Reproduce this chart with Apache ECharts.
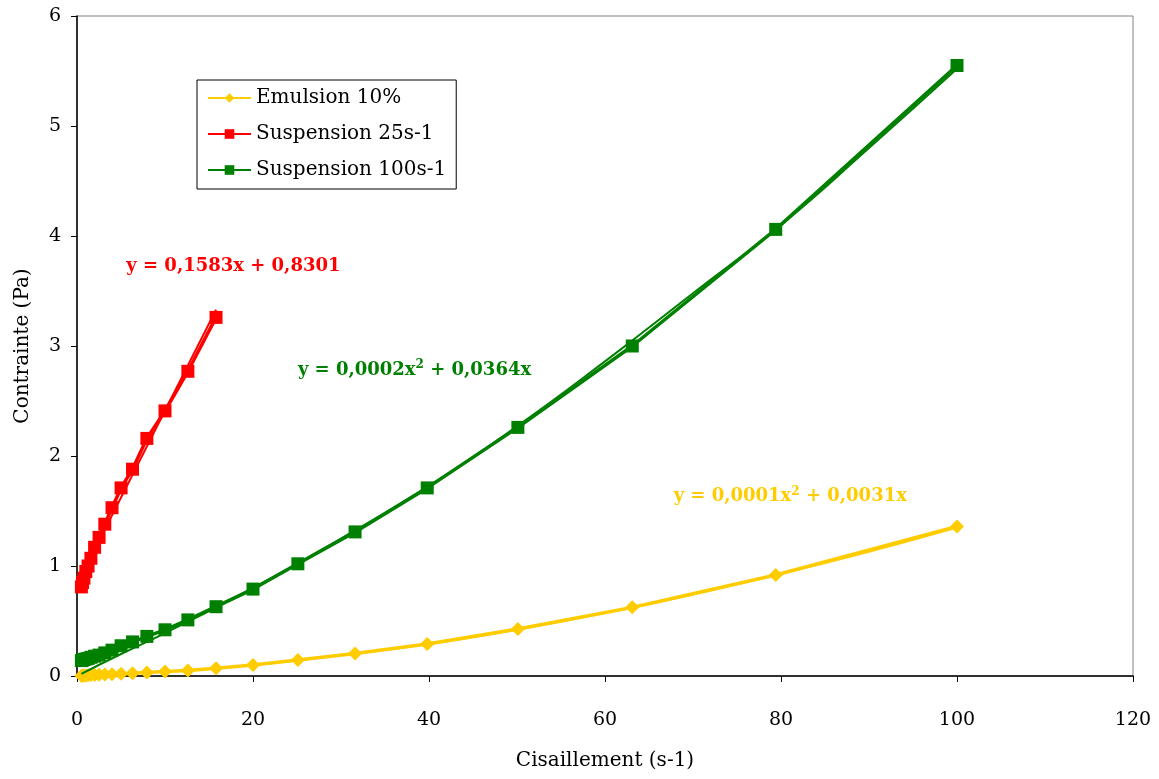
<!DOCTYPE html>
<html>
<head>
<meta charset="utf-8">
<script src="https://cdn.jsdelivr.net/npm/echarts@6/dist/echarts.min.js"></script>
<style>
html,body{margin:0;padding:0;background:#fff;}
#c{width:1159px;height:779px;}
</style>
</head>
<body>
<div id="c"></div>
<script>
// Shear rates (s-1)
const shearLong = [0.5, 0.63, 0.79, 1, 1.26, 1.58, 2, 2.51, 3.16, 3.98, 5.01, 6.31, 7.94, 10, 12.6, 15.8, 20, 25.1, 31.6, 39.8, 50.1, 63.1, 79.4, 100];
const shearShort = [0.5, 0.63, 0.79, 1, 1.26, 1.58, 2, 2.51, 3.16, 3.98, 5.01, 6.31, 7.94, 10, 12.6, 15.8];

// Stress (Pa)
const emulsion10 = [0.002, 0.003, 0.004, 0.005, 0.006, 0.008, 0.01, 0.012, 0.014, 0.017, 0.02, 0.025, 0.032, 0.04, 0.05, 0.07, 0.10, 0.145, 0.205, 0.29, 0.427, 0.624, 0.918, 1.36];
const susp25 = [0.81, 0.85, 0.89, 0.95, 1.0, 1.07, 1.17, 1.26, 1.38, 1.53, 1.71, 1.88, 2.16, 2.41, 2.77, 3.26];
const susp100 = [0.14, 0.145, 0.15, 0.155, 0.16, 0.17, 0.18, 0.19, 0.21, 0.235, 0.275, 0.31, 0.36, 0.42, 0.51, 0.63, 0.79, 1.02, 1.31, 1.71, 2.26, 3.0, 4.06, 5.55];

// Trend lines
const trendEmulsionX = [0.5, 10, 20, 30, 40, 50, 60, 70, 80, 90, 100];
const trendEmulsionY = [0.0, 0.04, 0.10, 0.19, 0.29, 0.42, 0.57, 0.74, 0.93, 1.13, 1.35];
const trend25X = [0.5, 15.8];
const trend25Y = [0.91, 3.33];
const trend100X = [0.5, 5, 10, 20, 30, 40, 50, 60, 70, 80, 90, 100];
const trend100Y = [0.02, 0.20, 0.39, 0.80, 1.25, 1.73, 2.27, 2.86, 3.48, 4.10, 4.80, 5.52];

// Labels
const seriesNames = ['Emulsion 10%', 'Suspension 25s-1', 'Suspension 100s-1'];
const xTitle = 'Cisaillement (s-1)';
const yTitle = 'Contrainte (Pa)';
const eqLabels = [
  {parts: ['y = 0,1583x + 0,8301'], at: [5.6, 3.72], color: '#FF0000'},
  {parts: ['y = 0,0002x', '2', ' + 0,0364x'], at: [25.1, 2.78], color: '#008000'},
  {parts: ['y = 0,0001x', '2', ' + 0,0031x'], at: [67.8, 1.63], color: '#FFCC00'}
];

const colors = ['#FFCC00', '#FF0000', '#008000'];
const FONT = 'DejaVu Serif';

function zip(xs, ys){ return xs.map((x,i)=>[x, ys[i]]); }

const chart = echarts.init(document.getElementById('c'), null, {renderer:'canvas'});

const option = {
  animation: false,
  backgroundColor: '#fff',
  textStyle: {fontFamily: FONT},
  grid: {left: 77, right: 26, top: 16, bottom: 103, containLabel: false, outerBoundsMode: 'none',
         show: true, borderColor: '#808080', borderWidth: 1, backgroundColor: '#fff'},
  legend: {
    data: seriesNames,
    orient: 'vertical',
    left: 197, top: 80,
    backgroundColor: '#fff',
    borderColor: '#000', borderWidth: 1,
    padding: [8, 10, 9, 10],
    itemGap: 16,
    itemWidth: 43, itemHeight: 12,
    textStyle: {fontFamily: FONT, fontSize: 20, color: '#000'}
  },
  xAxis: {
    type: 'value', min: 0, max: 120, interval: 20,
    name: xTitle, nameLocation: 'middle', nameGap: 75,
    nameTextStyle: {fontFamily: FONT, fontSize: 20, color: '#000'},
    axisLine: {show: true, onZero: false, lineStyle: {color: '#000', width: 1.5}},
    axisTick: {show: true, inside: false, length: 6, lineStyle: {color: '#000'}},
    axisLabel: {fontFamily: FONT, fontSize: 19, color: '#000', margin: 35},
    splitLine: {show: false}
  },
  yAxis: {
    type: 'value', min: 0, max: 6, interval: 1,
    name: yTitle, nameLocation: 'middle', nameGap: 44,
    nameTextStyle: {fontFamily: FONT, fontSize: 20, color: '#000'},
    axisLine: {show: true, onZero: false, lineStyle: {color: '#000', width: 1.5}},
    axisTick: {show: true, inside: false, length: 6, lineStyle: {color: '#000'}},
    axisLabel: {fontFamily: FONT, fontSize: 19, color: '#000', margin: 16},
    splitLine: {show: false}
  },
  series: [
    {
      name: seriesNames[0], type: 'line', data: zip(shearLong, emulsion10),
      symbol: 'diamond', symbolSize: 14, color: colors[0],
      lineStyle: {width: 3.5, color: colors[0]}, itemStyle: {color: colors[0]}, z: 3
    },
    {
      name: seriesNames[1], type: 'line', data: zip(shearShort, susp25),
      symbol: 'rect', symbolSize: 13, color: colors[1],
      lineStyle: {width: 3.5, color: colors[1]}, itemStyle: {color: colors[1]}, z: 3
    },
    {
      name: seriesNames[2], type: 'line', data: zip(shearLong, susp100),
      symbol: 'rect', symbolSize: 13, color: colors[2],
      lineStyle: {width: 3.5, color: colors[2]}, itemStyle: {color: colors[2]}, z: 3
    },
    {
      name: 'trend-e', type: 'line', data: zip(trendEmulsionX, trendEmulsionY), smooth: true,
      showSymbol: false, lineStyle: {width: 2, color: colors[0]}, z: 4, silent: true
    },
    {
      name: 'trend-25', type: 'line', data: zip(trend25X, trend25Y),
      showSymbol: false, lineStyle: {width: 2, color: colors[1]}, z: 4, silent: true
    },
    {
      name: 'trend-100', type: 'line', data: zip(trend100X, trend100Y), smooth: true,
      showSymbol: false, lineStyle: {width: 2, color: colors[2]}, z: 4, silent: true
    }
  ]
};
chart.setOption(option);

const graphics = eqLabels.map(lab => {
  const p = chart.convertToPixel({gridIndex: 0}, lab.at);
  let rich = {
    n: {fontFamily: FONT, fontSize: 18, fontWeight: 'bold', fill: lab.color, color: lab.color},
    s: {fontFamily: FONT, fontSize: 12, fontWeight: 'bold', fill: lab.color, color: lab.color, verticalAlign: 'top', padding: [0,0,10,0]}
  };
  let txt = lab.parts.length === 1 ? '{n|' + lab.parts[0] + '}' :
    '{n|' + lab.parts[0] + '}{s|' + lab.parts[1] + '}{n|' + lab.parts[2] + '}';
  return {
    type: 'text', x: p[0], y: p[1], z: 10,
    style: {text: txt, rich: rich, align: 'left', verticalAlign: 'middle', fill: lab.color}
  };
});
chart.setOption({graphic: graphics});
</script>
</body>
</html>
